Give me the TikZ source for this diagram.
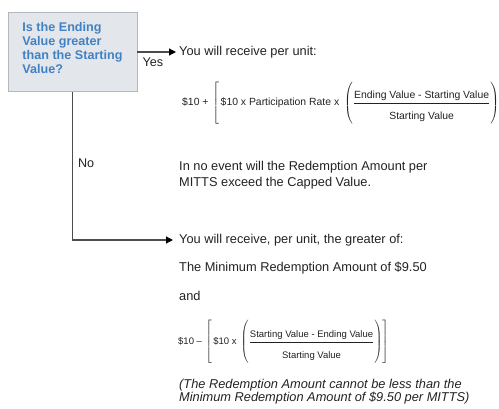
\documentclass[tikz,border=0pt]{standalone}
\usepackage{amsmath}
\usepackage{fontspec}
\setmainfont{Liberation Sans}
\usepackage{tikz}
\usetikzlibrary{arrows.meta,positioning}
\definecolor{boxfill}{HTML}{E3E7EC}
\definecolor{boxline}{HTML}{B3B8BF}
\definecolor{qblue}{HTML}{4281C2}
\definecolor{txt}{HTML}{222222}
\definecolor{wire}{HTML}{4D4D4D}
\newcommand{\fstr}{\vrule width 0pt height 22.5pt depth 17.5pt}
\newcommand{\lowstr}{\rule{0pt}{13.5pt}}

\begin{document}
\begin{tikzpicture}[x=1pt, y=-1pt]
\tikzstyle{qbox} = [draw=boxline, fill=boxfill, line width=0.8pt, minimum width=129pt, minimum height=79pt, inner sep=0pt]
\tikzstyle{qtext} = [text=qblue, font=\bfseries\fontsize{12.6}{13.8}\selectfont, align=left, inner sep=0pt]
\tikzstyle{body} = [text=txt, font=\fontsize{12.8}{16.6}\selectfont, inner sep=0pt, align=left]
\tikzstyle{lbl} = [text=txt, font=\fontsize{12.6}{14}\selectfont, inner sep=0pt]
\tikzstyle{wire} = [draw=wire, line width=1.2pt, -{Triangle[length=7pt, width=7pt, color=black]}]
\tikzstyle{formula} = [text=txt, inner sep=0pt, anchor=west]
\useasboundingbox (0,0) rectangle (499,409);

% question
\node[qbox] (q) at (72.5,52) {};
\node[qtext] (qt) at ([yshift=4pt]q.center) {Is the Ending\\Value greater\\than the Starting\\Value?};

% yes branch
\node[body, anchor=west, inner xsep=3pt] (recv1) at (176,52) {You will receive per unit:};
\node[formula, font=\fontsize{10.4}{12}\selectfont] (f1) at (182,103)
  {\delimiterfactor=1000 \delimitershortfall=0pt
   $\mbox{\$10 +}\mkern4mu\left[\fstr\mkern3mu\mbox{\$10 x Participation Rate x}\mkern6mu
   \left(\fstr\genfrac{}{}{0.8pt}{0}{\mbox{Ending Value - Starting Value}}{\mbox{\lowstr Starting Value}}\right)\right]$};
\node[body, anchor=west] (cap) at (179,175) {In no event will the Redemption Amount per\\MITTS exceed the Capped Value.};
\draw[wire] (q.east) -- node[lbl, below, pos=0.4, yshift=-5pt] {Yes} (recv1.west);

% no branch
\node[body, anchor=west, inner xsep=6pt] (recv2) at (173,240) {You will receive, per unit, the greater of:};
\node[body, anchor=base west] (minred) at (179,271.3) {The Minimum Redemption Amount of \$9.50};
\node[body, anchor=base west] (and) at (179,301) {and};
\node[formula, font=\fontsize{9.5}{11}\selectfont] (f2) at (178,342)
  {\delimiterfactor=1000 \delimitershortfall=0pt
   $\mbox{\$10 –}\mkern4mu\left[\fstr\mkern3mu\mbox{\$10 x}\mkern5mu
   \left(\fstr\genfrac{}{}{0.8pt}{0}{\mbox{Starting Value - Ending Value}}{\mbox{\lowstr Starting Value}}\right)\right]$};
\node[body, anchor=west, font=\itshape\fontsize{12.8}{13}\selectfont] (note) at (179,392)
  {(The Redemption Amount cannot be less than the\\Minimum Redemption Amount of \$9.50 per MITTS)};
\draw[wire] (q.south) |- node[lbl, pos=0.24, anchor=west, xshift=5pt] {No} (recv2.west);
\end{tikzpicture}
\end{document}
